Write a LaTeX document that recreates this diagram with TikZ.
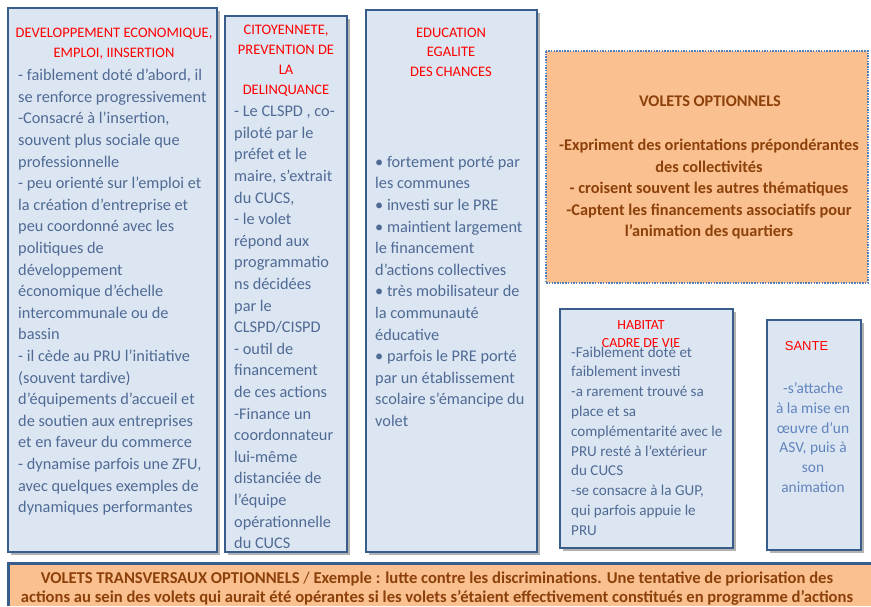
\documentclass[tikz,border=0pt]{standalone}
\usepackage{fontspec}
\setmainfont{Carlito}
\newfontfamily\arialfont{Liberation Sans}
\definecolor{boxblue}{RGB}{56,93,138}
\definecolor{boxfill}{RGB}{220,230,242}
\definecolor{bodyblue}{RGB}{79,106,148}
\definecolor{lightbody}{RGB}{98,132,190}
\definecolor{peach}{RGB}{250,192,144}
\definecolor{rust}{RGB}{140,64,10}
\definecolor{dotblue}{RGB}{79,129,189}
\tikzset{
  panel/.style={draw=boxblue, line width=2.5pt, fill=boxfill},
  panelshadow/.style={draw=none, fill=black, fill opacity=0.3},
  paneltitle/.style={anchor=north, inner sep=0pt, align=center, text=red, font=\fontsize{14.5}{19.8}\selectfont},
  panelbody/.style={anchor=north west, inner sep=0pt, align=left, text=bodyblue, font=\fontsize{16.3}{21.6}\selectfont},
  orangetext/.style={anchor=north, inner sep=0pt, align=center, text=rust, font=\bfseries\fontsize{16.3}{21.5}\selectfont},
}
\begin{document}
\begin{tikzpicture}[x=1pt,y=1pt,yscale=-1,xscale=1]
\useasboundingbox (0,0) rectangle (871,606);

%Shape: Rectangle [developpement]
\fill [panelshadow] (10.5,10.5) rectangle (219.5,554.5) ;
\draw [panel] (8,8) rectangle (217,552) ;
%Shape: Rectangle [citoyennete]
\fill [panelshadow] (227.5,18.5) rectangle (349.5,554.5) ;
\draw [panel] (225,16) rectangle (347,552) ;
%Shape: Rectangle [education]
\fill [panelshadow] (368.5,12.5) rectangle (539.5,554.5) ;
\draw [panel] (366,10) rectangle (537,552) ;
%Shape: Rectangle [volets optionnels]
\draw [draw=dotblue, line width=2.5pt, dash pattern=on 1.5pt off 1.2pt, fill=peach] (546,51) rectangle (868,283) ;
%Shape: Rectangle [habitat]
\fill [panelshadow] (562.5,311.5) rectangle (735.5,550.5) ;
\draw [panel] (560,309) rectangle (733,548) ;
%Shape: Rectangle [sante]
\fill [panelshadow] (769.5,322.5) rectangle (863.5,552.5) ;
\draw [panel] (767,320) rectangle (861,550) ;
%Shape: Rectangle [transversaux]
\fill [peach] (8,563) rectangle (871,606) ;
\draw [draw=boxblue, line width=3pt] (8,606) -- (8,563) -- (871,563) ;

% Text Node
\node (devtitle) [paneltitle] at (114,28) {DEVELOPPEMENT ECONOMIQUE,\\EMPLOI, IINSERTION};
% Text Node
\node (devbody) [panelbody] at (18,69) {-  faiblement doté d’abord, il\\se renforce progressivement\\-Consacré à l’insertion,\\souvent plus sociale que\\professionnelle\\- peu orienté sur l’emploi et\\la création d’entreprise et\\peu coordonné  avec les\\politiques de\\développement\\économique d’échelle\\intercommunale ou de\\bassin\\- il cède au PRU  l’initiative\\(souvent tardive)\\d’équipements d’accueil et\\de soutien aux entreprises\\et en faveur du commerce\\- dynamise parfois une ZFU,\\avec quelques exemples de\\dynamiques performantes};
% Text Node
\node (citotitle) [paneltitle] at (286,25) {CITOYENNETE,\\PREVENTION DE\\LA\\DELINQUANCE};
% Text Node
\node (citobody) [panelbody] at (234,106) {- Le CLSPD , co-\\piloté par le\\préfet et le\\maire, s’extrait\\du CUCS,\\- le volet\\répond aux\\programmatio\\ns décidées\\par le\\CLSPD/CISPD\\- outil de\\financement\\de ces actions\\-Finance un\\coordonnateur\\lui-même\\distanciée de\\l’équipe\\opérationnelle\\du CUCS};
% Text Node
\node (edutitle) [paneltitle] at (451,27.5) {EDUCATION\\EGALITE\\DES CHANCES};
% Text Node
\node (edubody) [panelbody] at (375,156) {\textbullet{} fortement porté par\\les communes\\\textbullet{} investi sur  le PRE\\\textbullet{} maintient largement\\le financement\\d’actions collectives\\\textbullet{} très mobilisateur de\\la communauté\\éducative\\\textbullet{} parfois le PRE porté\\par un établissement\\scolaire s’émancipe du\\volet};
% Text Node
\node (opttitle) [orangetext] at (710,96) {VOLETS OPTIONNELS};
% Text Node
\node (optbody) [orangetext] at (709,139) {-Expriment des orientations prépondérantes\\des collectivités\\- croisent souvent les autres thématiques\\-Captent les financements associatifs pour\\l’animation des quartiers};
% Text Node
\node (habtitle) [paneltitle, font=\fontsize{13.9}{18}\selectfont] at (641,320.5) {HABITAT\\CADRE DE VIE};
% Text Node
\node (habbody) [panelbody, font=\fontsize{15.1}{19.8}\selectfont] at (571,346.5) {-Faiblement doté et\\faiblement investi\\-a rarement trouvé sa\\place et sa\\complémentarité avec le\\PRU resté à l’extérieur\\du CUCS\\-se consacre à la GUP,\\qui parfois appuie le\\PRU};
% Text Node
\node (santetitle) [paneltitle, font=\arialfont\fontsize{13}{15}\selectfont] at (806.5,341.5) {SANTE};
% Text Node
\node (santebody) [panelbody, anchor=north, align=center, text=lightbody, font=\fontsize{15.4}{19.8}\selectfont] at (813,382.5) {-s’attache\\à la mise en\\œuvre d’un\\ASV, puis à\\son\\animation};
% Text Node
\node (transbody) [orangetext, font=\bfseries\fontsize{16.6}{19}\selectfont] at (437,571.5) {VOLETS TRANSVERSAUX  OPTIONNELS {\mdseries /} Exemple : lutte contre les discriminations. Une tentative de priorisation des\\actions au sein des volets qui aurait été opérantes si les volets s’étaient effectivement constitués en programme d’actions};

\end{tikzpicture}
\end{document}
